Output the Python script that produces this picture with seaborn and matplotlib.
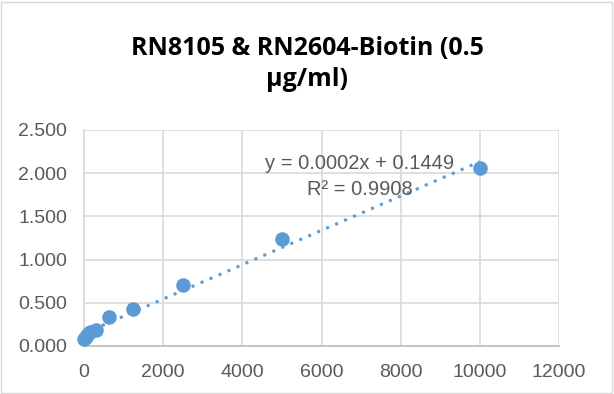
import numpy as np
import pandas as pd
import matplotlib
matplotlib.use("Agg")
import matplotlib.pyplot as plt
import seaborn as sns

conc = [0, 39, 78, 156, 312.5, 625, 1250, 2500, 5000, 10000]
od = [0.08, 0.10, 0.13, 0.16, 0.185, 0.335, 0.425, 0.71, 1.24, 2.06]
xticks = [0, 2000, 4000, 6000, 8000, 10000, 12000]
yticks = [0.0, 0.5, 1.0, 1.5, 2.0, 2.5]
title = "RN8105 & RN2604-Biotin (0.5\nμg/ml)"
eq_text = "y = 0.0002x + 0.1449"
r2_text = "R² = 0.9908"

df = pd.DataFrame({"conc": conc, "od": od})

sns.set_theme(style="white")
plt.rcParams['font.family'] = ['Liberation Sans', 'DejaVu Sans']

fig = plt.figure(figsize=(6.14, 3.94), dpi=100)
ax = fig.add_axes([84/614, 1-346/394, (559-84)/614, (346-130)/394])

blue = "#5B9BD5"
gray = "#595959"

# trendline
coef = np.polyfit(df["conc"], df["od"], 1)
xs = np.array([0, 10000])
ax.plot(xs, np.polyval(coef, xs), linestyle=(0, (1, 2.2)), color=blue, lw=2.2, zorder=2)

sns.scatterplot(data=df, x="conc", y="od", ax=ax, color=blue, s=110, edgecolor=blue,
                linewidth=0, zorder=3, legend=False, clip_on=False)

ax.set_xlim(0, 12000)
ax.set_ylim(0, 2.5)
ax.set_xticks(xticks)
ax.set_yticks(yticks)
ax.set_xticklabels([str(v) for v in xticks])
ax.set_yticklabels([f"{v:.3f}" for v in yticks])
ax.grid(True, color="#D9D9D9", lw=1.2)
ax.set_axisbelow(True)
for s in ["top", "right"]:
    ax.spines[s].set_visible(False)
ax.spines["left"].set_color("#D9D9D9")
ax.spines["bottom"].set_color("#BFBFBF")
ax.tick_params(axis="x", colors=gray, labelsize=14, length=0, pad=13)
ax.tick_params(axis="y", colors=gray, labelsize=14, length=0, pad=12)
ax.set_xlabel("")
ax.set_ylabel("")

ax.text(6958, 2.118, eq_text, ha="center", va="center", color=gray, fontsize=14.5)
ax.text(6958, 1.817, r2_text, ha="center", va="center", color=gray, fontsize=14.5)

fig.text(0.5, 0.838, title, ha="center", va="center", fontsize=18,
         fontweight="bold", color="black", linespacing=1.3, family="Open Sans")

# chart border
fig.patches.append(matplotlib.patches.Rectangle((0.002, 0.003), 0.995, 0.993,
                   transform=fig.transFigure, fill=False, edgecolor="#D9D9D9", lw=1))

fig.savefig("out.png", dpi=100)
